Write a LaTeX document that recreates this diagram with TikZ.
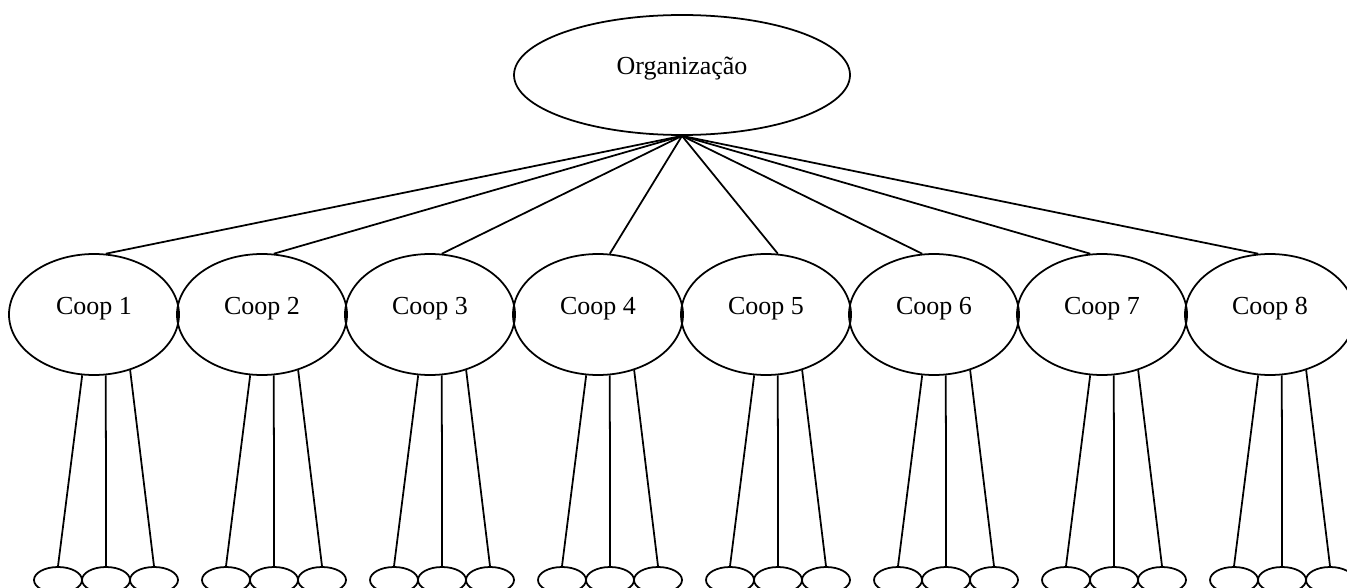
\documentclass[tikz,border=0pt]{standalone}
\usepackage{fontspec}
\setmainfont{Liberation Serif}
\usetikzlibrary{shapes.geometric}
\begin{document}
\begin{tikzpicture}[
        org/.style={draw, ellipse, line width=1pt, minimum width=6.72cm, minimum height=2.4cm, inner sep=0pt,
            text height=0.35cm, text depth=0.35cm, font=\fontsize{14.8}{17}\selectfont},
        coop/.style={draw, ellipse, line width=1pt, minimum width=3.4cm, minimum height=2.42cm, inner sep=0pt,
            text height=0.35cm, text depth=0.35cm, font=\fontsize{14.8}{17}\selectfont},
        member/.style={draw, ellipse, line width=1pt, minimum width=0.96cm, minimum height=0.52cm, inner sep=0pt},
        link/.style={line width=1pt}
    ]
        \useasboundingbox (0,0) rectangle (26.94,11.74);

        % Top of the hierarchy
        \node[org] (org) at (13.64,10.24) {Organização};

        % Cooperatives and their members
        \foreach \i in {1,...,8} {
            \pgfmathsetmacro{\cx}{1.88+3.36*(\i-1)}
            \pgfmathtruncatemacro{\ang}{\i<6 ? 79 : 101}
            \node[coop] (coop\i) at (\cx,5.45) {Coop \i};
            \draw[link] (org.south) -- (coop\i.\ang);
            \foreach \j/\a in {1/259, 2/281, 3/303} {
                \node[member] (mem\i-\j) at ({\cx+0.24+0.96*(\j-2)},0.14) {};
                \draw[link] (coop\i.\a) -- (mem\i-\j.north);
            }
        }
    \end{tikzpicture}
\end{document}
